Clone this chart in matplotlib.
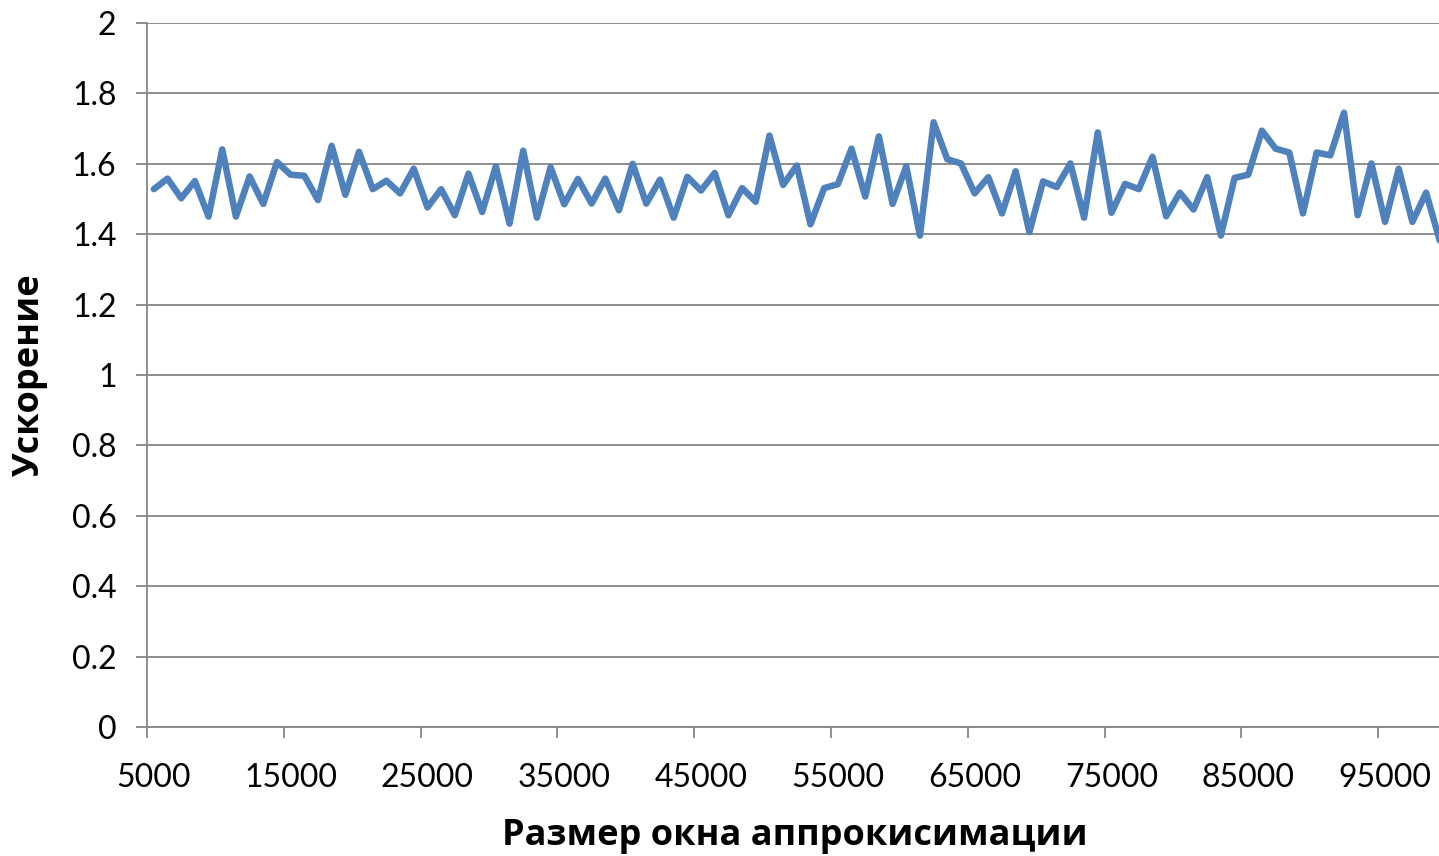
import matplotlib
matplotlib.use("Agg")
import matplotlib.pyplot as plt
import numpy as np
from matplotlib.ticker import FixedLocator, NullFormatter

# Data
window_sizes = [5000 + 1000 * i for i in range(95)]
speedup = [
    1.528, 1.558, 1.502, 1.551, 1.450, 1.641, 1.450, 1.564, 1.486, 1.605,
    1.569, 1.566, 1.497, 1.651, 1.512, 1.634, 1.528, 1.552, 1.516, 1.586,
    1.476, 1.528, 1.454, 1.572, 1.463, 1.593, 1.430, 1.637, 1.447, 1.590,
    1.485, 1.557, 1.487, 1.558, 1.468, 1.600, 1.487, 1.555, 1.447, 1.563,
    1.524, 1.574, 1.454, 1.531, 1.492, 1.680, 1.540, 1.595, 1.428, 1.531,
    1.542, 1.643, 1.507, 1.678, 1.486, 1.593, 1.396, 1.718, 1.613, 1.601,
    1.516, 1.562, 1.459, 1.579, 1.406, 1.550, 1.534, 1.601, 1.447, 1.689,
    1.461, 1.543, 1.528, 1.620, 1.451, 1.518, 1.470, 1.562, 1.396, 1.560,
    1.569, 1.694, 1.643, 1.632, 1.459, 1.632, 1.624, 1.745, 1.454, 1.601,
    1.435, 1.586, 1.435, 1.518, 1.382,
]
x_tick_labels = ["5000", "15000", "25000", "35000", "45000",
                 "55000", "65000", "75000", "85000", "95000"]
y_ticks = [0, 0.2, 0.4, 0.6, 0.8, 1.0, 1.2, 1.4, 1.6, 1.8, 2.0]
y_tick_labels = ["0", "0.2", "0.4", "0.6", "0.8", "1", "1.2", "1.4", "1.6", "1.8", "2"]
x_label = "Размер окна аппрокисимации"
y_label = "Ускорение"

W, H = 1439, 856
fig = plt.figure(figsize=(W / 100, H / 100), dpi=100)
left_px, right_px, top_px, bottom_px = 147, 1439, 23, 727
ax = fig.add_axes([left_px / W, 1 - bottom_px / H,
                   (right_px - left_px) / W, (bottom_px - top_px) / H])

cat_px = 13.68
x0 = window_sizes[0] - 500
x1 = x0 + (right_px - left_px) / cat_px * 1000
ax.set_xlim(x0, x1)
ax.set_ylim(0, 2)

grid_color = "#868686"
ax.plot(window_sizes, speedup, color="#4F81BD", linewidth=4.7,
        solid_joinstyle="round", solid_capstyle="round", zorder=3)

for spine in ["top", "right"]:
    ax.spines[spine].set_visible(False)
for spine in ["left", "bottom"]:
    ax.spines[spine].set_color(grid_color)
    ax.spines[spine].set_linewidth(1.3)

ax.set_yticks(y_ticks)
ax.set_yticklabels(y_tick_labels)
ax.yaxis.grid(True, color=grid_color, linewidth=1.3)
ax.set_axisbelow(True)

major_x = [5000 + 10000 * k for k in range(len(x_tick_labels))]
ax.set_xticks(major_x)
ax.set_xticklabels(x_tick_labels)
ax.xaxis.set_minor_locator(FixedLocator([x0 + 10000 * k for k in range(10)]))
ax.xaxis.set_minor_formatter(NullFormatter())
ax.tick_params(axis="x", which="major", length=0, pad=26)
ax.tick_params(axis="x", which="minor", length=8, width=1.3, color=grid_color)
ax.tick_params(axis="y", length=8, width=1.3, color=grid_color, pad=14)

font = ["Lato", "Open Sans", "DejaVu Sans"]
for lbl in ax.get_xticklabels() + ax.get_yticklabels():
    lbl.set_fontfamily(font)
    lbl.set_fontsize(23)
    lbl.set_color("#000000")

lab_font = ["Open Sans", "DejaVu Sans"]
fig.text(795 / W, 1 - 836 / H, x_label, ha="center", va="center",
         fontsize=26, fontweight="bold", family=lab_font)
fig.text(30 / W, 1 - 375 / H, y_label, ha="center", va="center",
         rotation=90, fontsize=26, fontweight="bold", family=lab_font)

fig.savefig("out.png", dpi=100)
